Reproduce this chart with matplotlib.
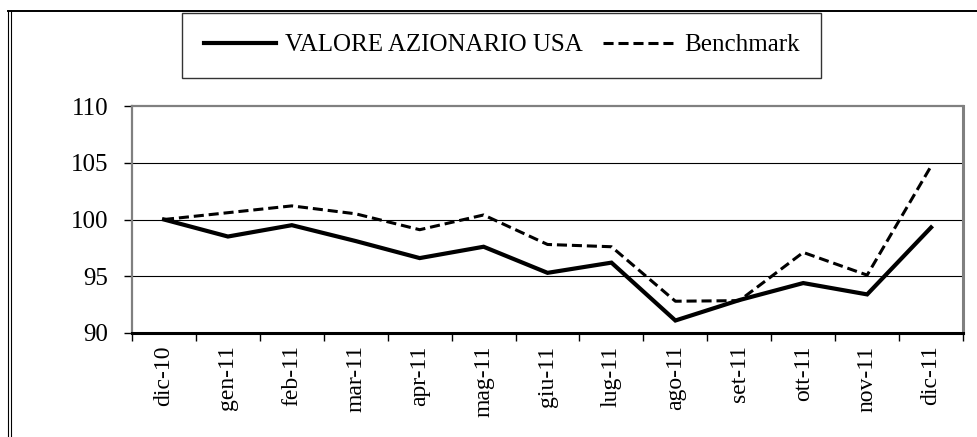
import numpy as np
import matplotlib
matplotlib.use("Agg")
import matplotlib.pyplot as plt
from matplotlib.lines import Line2D

# --- Dati ---
mesi = ["dic-10", "gen-11", "feb-11", "mar-11", "apr-11", "mag-11", "giu-11",
        "lug-11", "ago-11", "set-11", "ott-11", "nov-11", "dic-11"]
valore_usa = [100.0, 98.5, 99.5, 98.1, 96.6, 97.6, 95.3, 96.2, 91.1, 92.9, 94.4, 93.4, 99.3]
benchmark = [100.0, 100.6, 101.2, 100.5, 99.1, 100.4, 97.8, 97.6, 92.8, 92.85, 97.1, 95.1, 104.7]
y_ticks = [90, 95, 100, 105, 110]

plt.rcParams['font.family'] = ['Liberation Serif', 'DejaVu Serif']

fig = plt.figure(figsize=(9.78, 4.37), dpi=100)
ax = fig.add_axes([0.135, 0.238, 0.8497, 0.5194])

x = np.arange(len(mesi))
l1, = ax.plot(x, valore_usa, color='black', lw=3.0, solid_joinstyle='miter',
              label='VALORE AZIONARIO USA')
l2, = ax.plot(x, benchmark, color='black', lw=2.2, dashes=(3.3, 1.6),
              label='Benchmark')

# --- Assi ---
ax.set_xlim(-0.5, len(mesi) - 0.5)
ax.set_ylim(90, 110)
ax.set_yticks(y_ticks)
ax.set_yticklabels([str(v) for v in y_ticks])
for v in y_ticks[1:-1]:
    ax.axhline(v, color='black', lw=0.8, zorder=0)

ax.set_xticks(x)
ax.set_xticklabels(mesi, rotation=90, fontsize=17)
ax.set_xticks(np.arange(-0.5, len(mesi)), minor=True)
ax.tick_params(axis='x', which='major', length=0, pad=9)
ax.tick_params(axis='x', which='minor', length=6, width=1, direction='out', color='black')
ax.tick_params(axis='y', length=6, width=1, pad=11, labelsize=18)

ax.spines['top'].set_color('#808080')
ax.spines['top'].set_linewidth(1.6)
ax.spines['left'].set_color('#808080')
ax.spines['left'].set_linewidth(1.6)
ax.spines['right'].set_color('#808080')
ax.spines['right'].set_linewidth(2.2)
ax.spines['bottom'].set_color('black')
ax.spines['bottom'].set_linewidth(2.2)

# --- Cornice esterna ---
W, H = 978, 437
def fx(px):
    return px / W
def fy(py):
    return 1 - py / H
fig.add_artist(Line2D([fx(8), fx(978)], [fy(11), fy(11)], color='black', lw=1.4))
fig.add_artist(Line2D([fx(8), fx(8)], [fy(11), 0], color='black', lw=0.8))
fig.add_artist(Line2D([fx(11.5), fx(11.5)], [fy(11), 0], color='black', lw=0.8))

# --- Legenda ---
leg = fig.legend(handles=[l1, l2], loc='center', ncol=2,
                 bbox_to_anchor=(fx(501.5), fy(45)),
                 fontsize=18, frameon=True, fancybox=False,
                 edgecolor='black', handlelength=2.9, handletextpad=0.35,
                 columnspacing=0.8, borderpad=0.85, borderaxespad=0)
leg.get_frame().set_linewidth(1.0)

fig.savefig('out.png', dpi=100)
